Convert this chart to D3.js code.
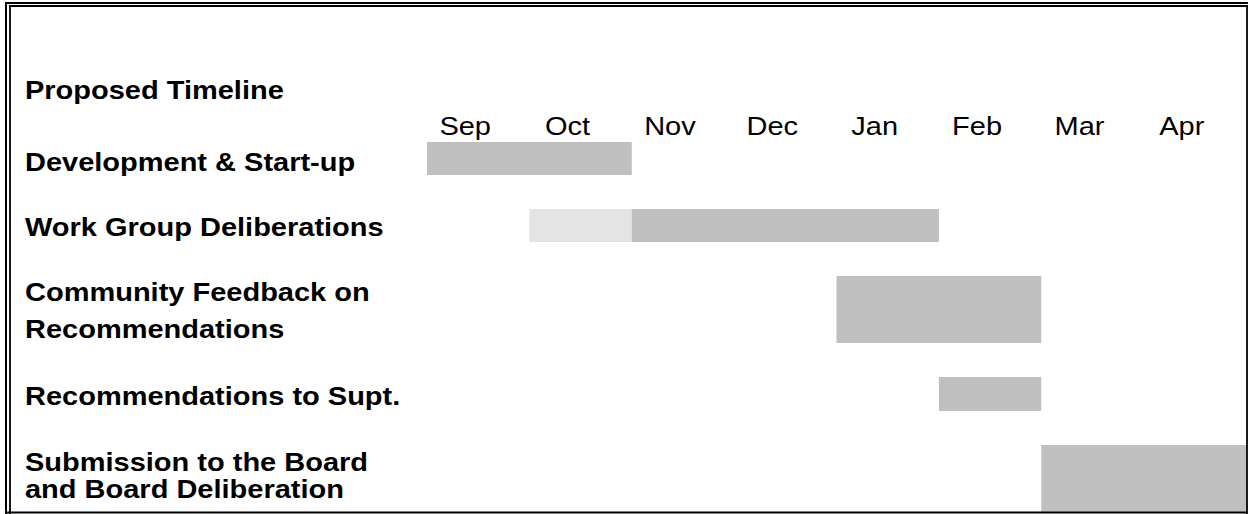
<!DOCTYPE html>
<html>
<head>
<meta charset="utf-8">
<script src="https://cdn.jsdelivr.net/npm/d3@7"></script>
<style>
  body { margin: 0; background: #fff; }
  svg { display: block; }
</style>
</head>
<body>
<svg id="chart" width="1248" height="514"></svg>
<script>
// months shown across the top
const months = ["Sep", "Oct", "Nov", "Dec", "Jan", "Feb", "Mar", "Apr"];

// task rows (label lines)
const tasks = [
  ["Development & Start-up"],
  ["Work Group Deliberations"],
  ["Community Feedback on", "Recommendations"],
  ["Recommendations to Supt."],
  ["Submission to the Board", "and Board Deliberation"]
];

// bar segments: row index, start month, end month (exclusive), shade
const segRow = [0, 1, 1, 2, 3, 4];
const segStart = [0, 1, 2, 4, 5, 6];
const segEnd = [2, 2, 5, 6, 6, 8];
const segShade = ["dark", "light", "dark", "dark", "dark", "dark"];

const svg = d3.select("#chart");
const W = 1248, H = 514;
const font = "'Liberation Sans', Arial, sans-serif";
const stretch = 1.16;

const x = d3.scaleLinear().domain([0, months.length]).range([427, 1246]);
const rowTop = [142, 209, 276, 377, 445];
const rowBottom = [175, 242, 343, 411, 512];
// baselines of the label lines for each row
const rowBase = [[171], [236], [301, 338], [405], [471, 498]];
const shade = d3.scaleOrdinal().domain(["dark", "light"]).range(["#c0c0c0", "#e4e4e4"]);

// bars
svg.append("g")
  .selectAll("rect")
  .data(segRow.map((r, i) => ({ r, s: segStart[i], e: segEnd[i], c: segShade[i] })))
  .join("rect")
  .attr("x", d => x(d.s))
  .attr("y", d => rowTop[d.r])
  .attr("width", d => x(d.e) - x(d.s))
  .attr("height", d => rowBottom[d.r] - rowTop[d.r])
  .attr("fill", d => shade(d.c));

// month labels
svg.append("g")
  .selectAll("text")
  .data(months)
  .join("text")
  .attr("transform", (d, i) => `translate(${x(i + 0.5) - 13},135) scale(${stretch},1)`)
  .attr("text-anchor", "middle")
  .attr("font-family", font)
  .attr("font-size", 25)
  .attr("fill", "#000")
  .text(d => d);

// title
svg.append("text")
  .attr("transform", `translate(25,99) scale(${stretch},1)`)
  .attr("font-family", font)
  .attr("font-size", 25)
  .attr("font-weight", "bold")
  .text("Proposed Timeline");

// row labels
tasks.forEach((lines, r) => {
  lines.forEach((t, j) => {
    svg.append("text")
      .attr("transform", `translate(25,${rowBase[r][j]}) scale(${stretch},1)`)
      .attr("font-family", font)
      .attr("font-size", 25)
      .attr("font-weight", "bold")
      .attr("fill", "#000")
      .text(t);
  });
});

// frame: double line left and top, single right and bottom
const frame = svg.append("g").attr("stroke", "#000").attr("fill", "none");
frame.append("line").attr("x1", 6).attr("y1", 2).attr("x2", 6).attr("y2", H).attr("stroke-width", 2);
frame.append("line").attr("x1", 10).attr("y1", 6).attr("x2", 10).attr("y2", H).attr("stroke-width", 1.8);
frame.append("line").attr("x1", 5).attr("y1", 3).attr("x2", W).attr("y2", 3).attr("stroke-width", 2);
frame.append("line").attr("x1", 9).attr("y1", 6).attr("x2", W).attr("y2", 6).attr("stroke-width", 1.8);
frame.append("line").attr("x1", 1247).attr("y1", 5).attr("x2", 1247).attr("y2", H).attr("stroke-width", 1.8);
frame.append("line").attr("x1", 5).attr("y1", 512.5).attr("x2", W).attr("y2", 512.5).attr("stroke-width", 2);
</script>
</body>
</html>
